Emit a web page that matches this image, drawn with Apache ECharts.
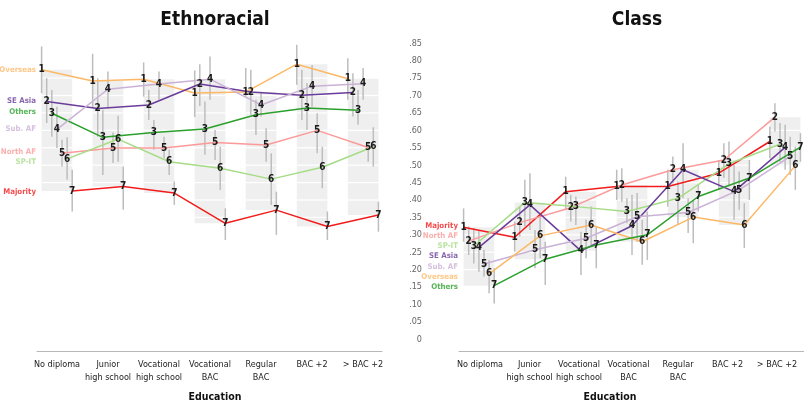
<!DOCTYPE html>
<html><head><meta charset="utf-8">
<script src="https://cdn.jsdelivr.net/npm/echarts@6/dist/echarts.min.js"></script>
<style>html,body{margin:0;padding:0;background:#fff}#c{width:804px;height:412px}</style>
</head><body><div id="c"></div>
<script>
// ---------- DATA ----------
const categories = ['No diploma', 'Junior\nhigh school', 'Vocational\nhigh school', 'Vocational\nBAC', 'Regular\nBAC', 'BAC +2', '> BAC +2'];
const yTickValues = [0, .05, .10, .15, .20, .25, .30, .35, .40, .45, .50, .55, .60, .65, .70, .75, .80, .85];

// Ethnoracial panel (series id = position in list)
const ethNames = ['Overseas', 'SE Asia', 'Others', 'Sub. AF', 'North AF', 'SP-IT', 'Majority'];
const ethOverseas = [0.774, 0.742, 0.747, 0.707, 0.710, 0.790, 0.748];
const ethSEAsia   = [0.683, 0.663, 0.673, 0.733, 0.710, 0.701, 0.709];
const ethOthers   = [0.649, 0.580, 0.594, 0.604, 0.645, 0.664, 0.658];
const ethSubAF    = [0.603, 0.718, 0.733, 0.747, 0.673, 0.727, 0.734];
const ethNorthAF  = [0.534, 0.549, 0.549, 0.565, 0.558, 0.600, 0.551];
const ethSPIT     = [0.518, 0.575, 0.510, 0.491, 0.460, 0.494, 0.553];
const ethMajority = [0.426, 0.439, 0.420, 0.333, 0.371, 0.324, 0.357];
// error bars [low, high]
const ethOverseasErr = [[0.707,0.841],[0.664,0.820],[0.697,0.795],[0.638,0.772],[0.697,0.779],[0.731,0.846],[0.688,0.807]];
const ethSEAsiaErr   = [[0.621,0.750],[0.582,0.750],[0.630,0.716],[0.670,0.790],[0.645,0.774],[0.630,0.774],[0.640,0.764]];
const ethOthersErr   = [[0.582,0.716],[0.472,0.659],[0.544,0.630],[0.530,0.683],[0.587,0.688],[0.601,0.736],[0.616,0.716]];
const ethSubAFErr    = [[0.549,0.668],[0.664,0.769],[0.688,0.769],[0.688,0.812],[0.640,0.711],[0.668,0.788],[0.688,0.779]];
const ethNorthAFErr  = [[0.496,0.573],[0.506,0.594],[0.520,0.582],[0.515,0.601],[0.510,0.606],[0.534,0.649],[0.510,0.568]];
const ethSPITErr     = [[0.458,0.580],[0.510,0.642],[0.472,0.544],[0.429,0.553],[0.386,0.534],[0.434,0.553],[0.496,0.609]];
const ethMajorityErr = [[0.367,0.487],[0.372,0.496],[0.386,0.453],[0.285,0.376],[0.300,0.424],[0.285,0.367],[0.309,0.395]];

// Class panel
const clsNames = ['Majority', 'North AF', 'SP-IT', 'SE Asia', 'Sub. AF', 'Overseas', 'Others'];
const clsMajority = [0.322, 0.293, 0.424, 0.439, 0.439, 0.477, 0.568];
const clsNorthAF  = [0.282, 0.335, 0.378, 0.443, 0.487, 0.515, 0.638];
const clsSPIT     = [0.268, 0.393, 0.381, 0.367, 0.405, 0.504, 0.560];
const clsSEAsia   = [0.264, 0.386, 0.254, 0.326, 0.487, 0.424, 0.551];
const clsSubAF    = [0.216, 0.257, 0.290, 0.352, 0.364, 0.429, 0.525];
const clsOverseas = [0.188, 0.297, 0.328, 0.280, 0.351, 0.328, 0.498];
const clsOthers   = [0.154, 0.230, 0.271, 0.300, 0.410, 0.463, 0.552];
const clsMajorityErr = [[0.280,0.376],[0.252,0.338],[0.372,0.467],[0.400,0.487],[0.381,0.487],[0.429,0.515],[0.520,0.611]];
const clsNorthAFErr  = [[0.242,0.324],[0.295,0.381],[0.338,0.415],[0.395,0.491],[0.448,0.525],[0.463,0.563],[0.597,0.678]];
const clsSPITErr     = [[0.218,0.319],[0.324,0.458],[0.328,0.410],[0.333,0.405],[0.328,0.453],[0.439,0.568],[0.510,0.621]];
const clsSEAsiaErr   = [[0.194,0.314],[0.314,0.477],[0.185,0.309],[0.242,0.415],[0.405,0.563],[0.343,0.501],[0.487,0.616]];
const clsSubAFErr    = [[0.180,0.257],[0.204,0.314],[0.233,0.343],[0.280,0.420],[0.305,0.405],[0.372,0.482],[0.472,0.582]];
const clsOverseasErr = [[0.132,0.228],[0.233,0.362],[0.271,0.381],[0.214,0.343],[0.276,0.400],[0.262,0.391],[0.429,0.553]];
const clsOthersErr   = [[0.103,0.204],[0.156,0.280],[0.204,0.324],[0.228,0.367],[0.367,0.443],[0.400,0.515],[0.510,0.592]];

// ---------- STYLE ----------
const FONT = "'DejaVu Sans Condensed','DejaVu Sans',sans-serif";
const COL = {Overseas:'#fdb866', 'SE Asia':'#6a3d9a', Others:'#2ca02c', 'Sub. AF':'#cab2d6', 'North AF':'#fb9a99', 'SP-IT':'#a6dc86', Majority:'#f21c1c'};

const ethSeries = [ethOverseas, ethSEAsia, ethOthers, ethSubAF, ethNorthAF, ethSPIT, ethMajority];
const ethErrs = [ethOverseasErr, ethSEAsiaErr, ethOthersErr, ethSubAFErr, ethNorthAFErr, ethSPITErr, ethMajorityErr];
const clsSeries = [clsMajority, clsNorthAF, clsSPIT, clsSEAsia, clsSubAF, clsOverseas, clsOthers];
const clsErrs = [clsMajorityErr, clsNorthAFErr, clsSPITErr, clsSEAsiaErr, clsSubAFErr, clsOverseasErr, clsOthersErr];

const XMIN = -0.39, XMAX = 6.37, STEP = 0.1, HALF = 0.3;

function boxItem(params, api) {
  const c = api.value(0), lo = api.value(1), hi = api.value(2);
  const p1 = api.coord([c - HALF, hi]), p2 = api.coord([c + HALF, lo]);
  const children = [{type: 'rect', shape: {x: p1[0], y: p1[1], width: p2[0] - p1[0], height: p2[1] - p1[1]}, style: {fill: '#efefef'}}];
  yTickValues.forEach(v => {
    if (v > lo + 1e-6 && v < hi - 1e-6) {
      const y = api.coord([c, v])[1];
      children.push({type: 'line', shape: {x1: p1[0], y1: y, x2: p2[0], y2: y}, style: {stroke: '#fff', lineWidth: 1.2}});
    }
  });
  return {type: 'group', children};
}
function errItem(params, api) {
  const x = api.value(0);
  const a = api.coord([x, api.value(1)]), b = api.coord([x, api.value(2)]);
  return {type: 'line', shape: {x1: a[0], y1: a[1], x2: b[0], y2: b[1]}, style: {stroke: '#bdbdbd', lineWidth: 1.5}};
}

function panelSeries(p, names, vals, errs, nameOffsets) {
  const out = [];
  const boxes = categories.map((c, i) => {
    const col = vals.map(s => s[i]);
    return [i, Math.min(...col), Math.max(...col)];
  });
  out.push({type: 'custom', xAxisIndex: p, yAxisIndex: p, renderItem: boxItem, data: boxes, z: 1, silent: true});
  const errData = [];
  vals.forEach((s, k) => errs[k].forEach((e, i) => errData.push([i + (k - 3) * STEP, e[0], e[1]])));
  out.push({type: 'custom', xAxisIndex: p, yAxisIndex: p, renderItem: errItem, data: errData, z: 2, silent: true});
  vals.forEach((s, k) => {
    const color = COL[names[k]];
    out.push({
      type: 'line', name: names[k], xAxisIndex: p, yAxisIndex: p, z: 3,
      data: s.map((v, i) => [i + (k - 3) * STEP, v]),
      symbol: 'circle', symbolSize: 1, showSymbol: true,
      lineStyle: {color, width: 1.5}, itemStyle: {color},
      label: {show: true, position: 'inside', formatter: String(k + 1), fontFamily: FONT, fontSize: 10, fontWeight: 'bold', color: '#1b1b1b'}
    });
  });
  vals.forEach((s, k) => {
    const off = nameOffsets(k);
    out.push({
      type: 'scatter', xAxisIndex: p, yAxisIndex: p, z: 4, symbolSize: 0.1, itemStyle: {color: 'transparent'}, silent: true,
      data: [[XMIN, off.base]],
      label: {show: true, position: 'left', distance: 1, offset: [0, off.dy], formatter: names[k], fontFamily: FONT, fontSize: 7.8, fontWeight: 'bold', color: COL[names[k]]}
    });
  });
  return out;
}

const ethAdj = [0, 0, -1, 0, -1, 3, 1];
const series = [].concat(
  panelSeries(0, ethNames, ethSeries, ethErrs, k => ({base: ethSeries[k][0], dy: ethAdj[k]})),
  panelSeries(1, clsNames, clsSeries, clsErrs, k => ({base: clsSeries[0][0], dy: k * 10.1 - 1}))
);

const gridBase = {top: 43.3, height: 296};
const valX = i => ({gridIndex: i, type: 'value', min: XMIN, max: XMAX, offset: 12,
  axisLine: {show: true, onZero: false, lineStyle: {color: '#b8b8b8', width: 1}},
  axisTick: {show: false}, axisLabel: {show: false}, splitLine: {show: false}});
const catX = i => ({gridIndex: i, type: 'category', data: categories, boundaryGap: true, offset: 12,
  axisLine: {show: false}, axisTick: {show: false}, splitLine: {show: false},
  axisLabel: {interval: 0, margin: 7, fontFamily: FONT, fontSize: 9, color: '#222', lineHeight: 13}});
const valY = (i, showLabels) => ({gridIndex: i, type: 'value', min: 0, max: 0.85, interval: 0.05,
  axisLine: {show: false}, axisTick: {show: false}, splitLine: {show: false},
  axisLabel: {show: showLabels, margin: 37, align: 'right', fontFamily: FONT, fontSize: 9, color: '#666',
    formatter: v => v === 0 ? '0' : '.' + String(Math.round(v * 100)).padStart(2, '0')}});

const option = {
  animation: false,
  backgroundColor: '#fff',
  title: [
    {text: 'Ethnoracial', left: 210, top: 6, textAlign: 'center', textStyle: {fontFamily: FONT, fontSize: 19, fontWeight: 'bold', color: '#111'}},
    {text: 'Class', left: 632, top: 6, textAlign: 'center', textStyle: {fontFamily: FONT, fontSize: 19, fontWeight: 'bold', color: '#111'}},
    {text: 'Education', left: 210, top: 387, textAlign: 'center', textStyle: {fontFamily: FONT, fontSize: 10.5, fontWeight: 'bold', color: '#111'}},
    {text: 'Education', left: 605, top: 387, textAlign: 'center', textStyle: {fontFamily: FONT, fontSize: 10.5, fontWeight: 'bold', color: '#111'}}
  ],
  grid: [
    Object.assign({left: 37, width: 345}, gridBase),
    Object.assign({left: 459, width: 345}, gridBase),
    Object.assign({left: 31.5, width: 357}, gridBase),
    Object.assign({left: 455.25, width: 346.5}, gridBase)
  ],
  xAxis: [valX(0), valX(1), catX(2), catX(3)],
  yAxis: [valY(0, false), valY(1, true), {gridIndex: 2, type: 'value', show: false}, {gridIndex: 3, type: 'value', show: false}],
  series
};

const chart = echarts.init(document.getElementById('c'), null, {renderer: 'canvas'});
chart.setOption(option);
</script>
</body></html>
